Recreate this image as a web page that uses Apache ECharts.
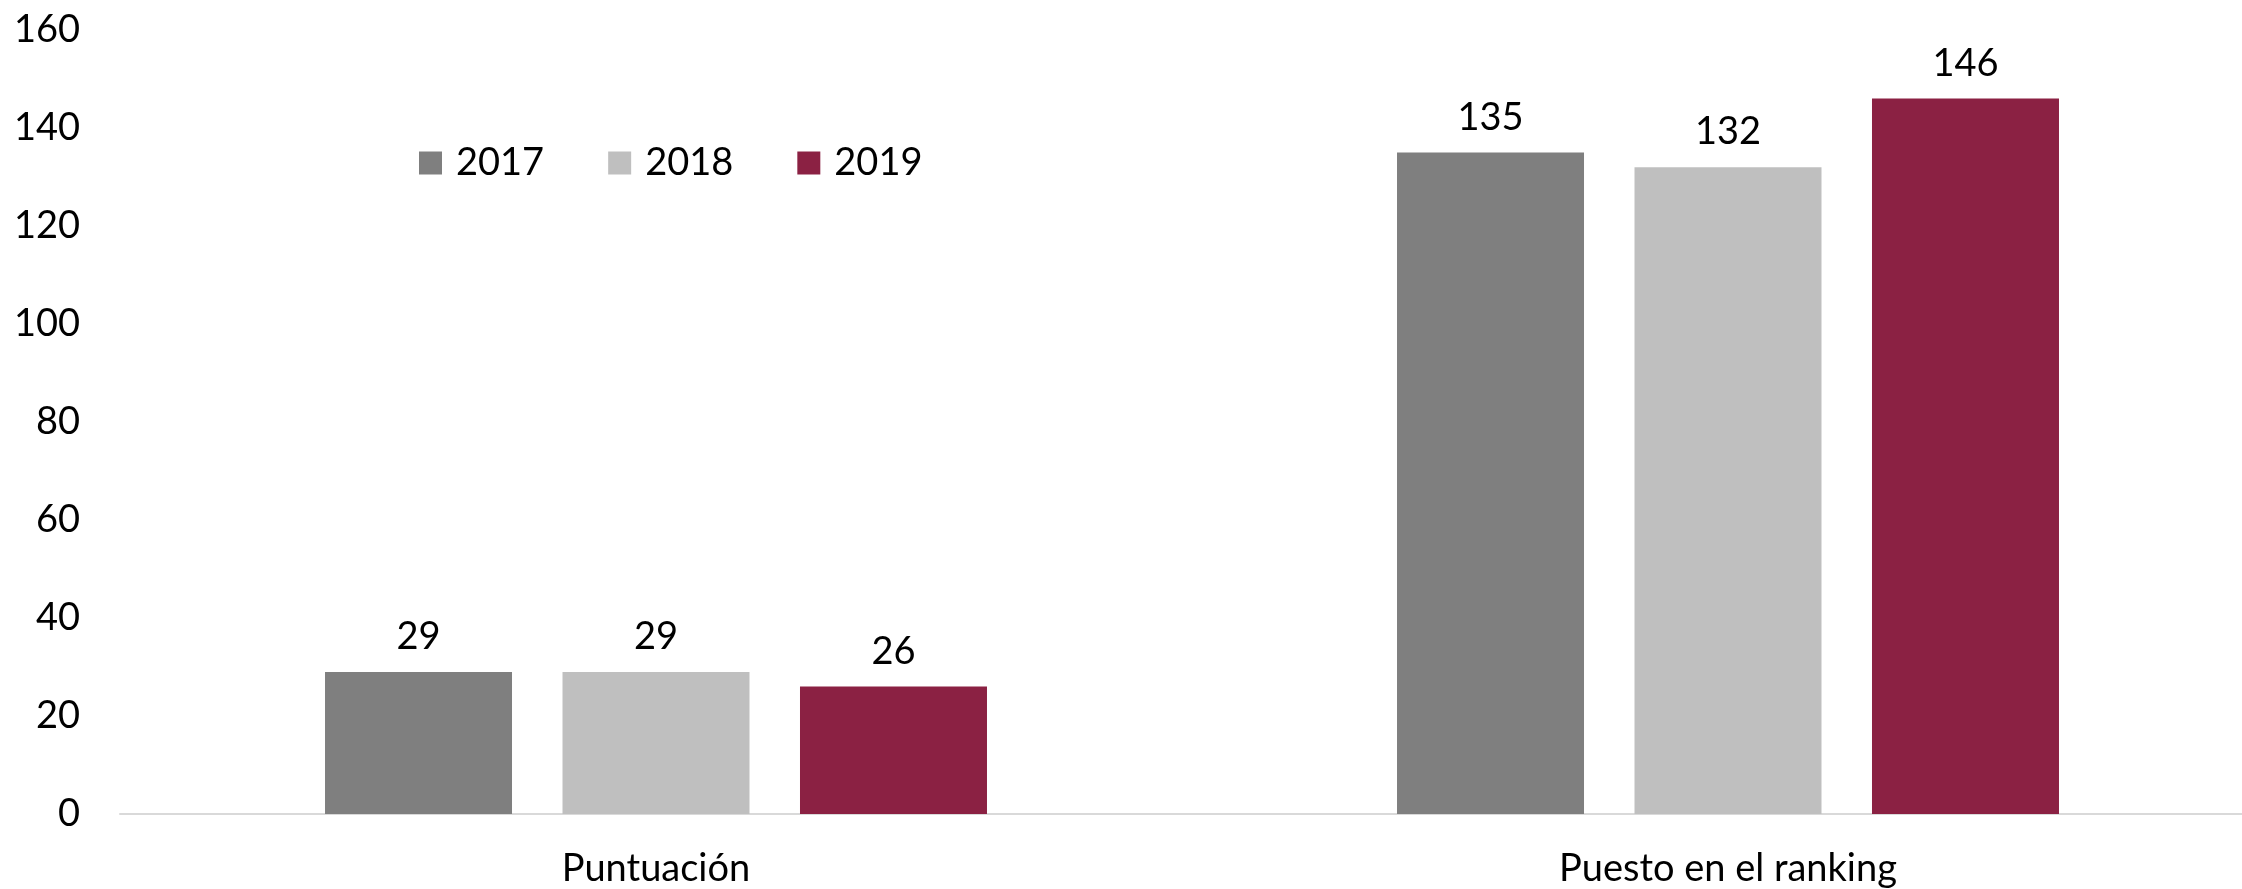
<!DOCTYPE html>
<html>
<head>
<meta charset="utf-8">
<script src="https://cdn.jsdelivr.net/npm/echarts@6/dist/echarts.min.js"></script>
<style>
  html, body { margin: 0; padding: 0; background: #fff; overflow: hidden; }
  /* the plot runs a little past the right edge, as in the original */
  #chart { width: 2264px; height: 889px; }
</style>
</head>
<body>
<div id="chart"></div>
<script>
// datos
var categories = ['Puntuación', 'Puesto en el ranking'];
var years = ['2017', '2018', '2019'];
var values2017 = [29, 135];
var values2018 = [29, 132];
var values2019 = [26, 146];
var yTicks = { min: 0, max: 160, interval: 20 };

var colors = ['#7f7f7f', '#bfbfbf', '#8b2143'];
var font = 'Lato, "Open Sans", sans-serif';

var chart = echarts.init(document.getElementById('chart'));

function barSeries(name, data, color) {
  return {
    name: name,
    type: 'bar',
    data: data,
    barWidth: 187,
    barGap: '27%',
    itemStyle: { color: color },
    label: {
      show: true,
      position: 'top',
      distance: 16,
      color: '#000',
      fontFamily: font,
      fontSize: 38
    }
  };
}

chart.setOption({
  animation: false,
  color: colors,
  grid: { left: 120, right: 0, top: 30, bottom: 75 },
  legend: {
    data: years,
    left: 414,
    top: 139,
    itemWidth: 23,
    itemHeight: 23,
    itemGap: 64,
    icon: 'rect',
    textStyle: { color: '#000', fontFamily: font, fontSize: 38, padding: [0, 0, 0, 9] }
  },
  xAxis: {
    type: 'category',
    data: categories,
    axisTick: { show: false },
    axisLine: { lineStyle: { color: '#d9d9d9', width: 2 } },
    axisLabel: { color: '#000', fontFamily: font, fontSize: 38, margin: 36 }
  },
  yAxis: {
    type: 'value',
    min: yTicks.min,
    max: yTicks.max,
    interval: yTicks.interval,
    axisLine: { show: false },
    axisTick: { show: false },
    splitLine: { show: false },
    axisLabel: { color: '#000', fontFamily: font, fontSize: 38, margin: 40 }
  },
  series: [
    barSeries(years[0], values2017, colors[0]),
    barSeries(years[1], values2018, colors[1]),
    barSeries(years[2], values2019, colors[2])
  ]
});
</script>
</body>
</html>
